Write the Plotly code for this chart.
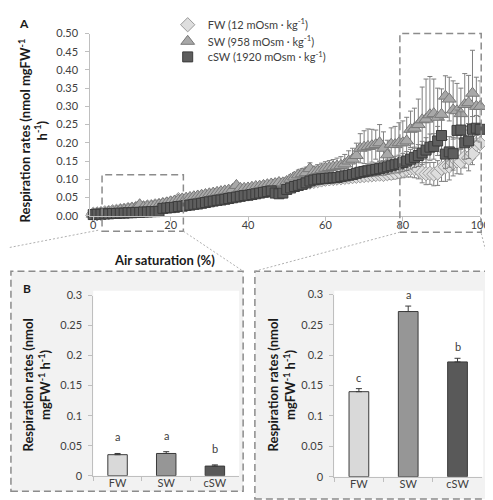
import plotly.graph_objects as go

# ---------------- data ----------------
air_saturation = list(range(0, 101))

fw_rate = [0.004, 0.005, 0.006, 0.008, 0.009, 0.011, 0.012, 0.014, 0.015, 0.017,
           0.018, 0.020, 0.021, 0.022, 0.024, 0.025, 0.027, 0.028, 0.030, 0.032,
           0.034, 0.036, 0.044, 0.040, 0.042, 0.044, 0.046, 0.048, 0.050, 0.052,
           0.054, 0.056, 0.058, 0.060, 0.061, 0.063, 0.064, 0.066, 0.067, 0.068,
           0.069, 0.070, 0.071, 0.072, 0.073, 0.074, 0.075, 0.076, 0.077, 0.078,
           0.080, 0.082, 0.084, 0.086, 0.088, 0.090, 0.092, 0.094, 0.096, 0.098,
           0.100, 0.101, 0.102, 0.103, 0.104, 0.105, 0.106, 0.107, 0.108, 0.109,
           0.110, 0.111, 0.112, 0.113, 0.114, 0.113, 0.115, 0.116, 0.118, 0.121,
           0.124, 0.128, 0.130, 0.129, 0.127, 0.118, 0.115, 0.116, 0.114, 0.117,
           0.130, 0.134, 0.136, 0.145, 0.150, 0.148, 0.161, 0.158, 0.170, 0.196,
           0.198]
fw_err = [0.002, 0.002, 0.002, 0.002, 0.002, 0.002, 0.003, 0.003, 0.003, 0.003,
          0.003, 0.003, 0.003, 0.003, 0.003, 0.004, 0.004, 0.004, 0.004, 0.004,
          0.004, 0.004, 0.005, 0.004, 0.004, 0.004, 0.005, 0.005, 0.005, 0.005,
          0.005, 0.005, 0.005, 0.005, 0.006, 0.006, 0.006, 0.006, 0.006, 0.006,
          0.006, 0.006, 0.006, 0.007, 0.007, 0.007, 0.007, 0.007, 0.007, 0.007,
          0.008, 0.008, 0.008, 0.008, 0.008, 0.008, 0.008, 0.009, 0.009, 0.009,
          0.009, 0.009, 0.010, 0.010, 0.010, 0.010, 0.010, 0.011, 0.011, 0.011,
          0.012, 0.012, 0.012, 0.013, 0.013, 0.014, 0.015, 0.016, 0.017, 0.018,
          0.020, 0.022, 0.024, 0.025, 0.026, 0.028, 0.030, 0.030, 0.032, 0.034,
          0.036, 0.040, 0.038, 0.036, 0.035, 0.034, 0.030, 0.035, 0.030, 0.028,
          0.025]

sw_rate = [0.004, 0.006, 0.007, 0.008, 0.010, 0.011, 0.013, 0.015, 0.016, 0.018,
           0.020, 0.021, 0.030, 0.023, 0.025, 0.026, 0.028, 0.030, 0.033, 0.035,
           0.038, 0.040, 0.043, 0.046, 0.048, 0.050, 0.052, 0.054, 0.056, 0.058,
           0.060, 0.062, 0.064, 0.066, 0.068, 0.070, 0.072, 0.083, 0.075, 0.075,
           0.076, 0.078, 0.080, 0.081, 0.083, 0.085, 0.087, 0.088, 0.091, 0.090,
           0.094, 0.100, 0.106, 0.112, 0.115, 0.118, 0.129, 0.120, 0.123, 0.126,
           0.130, 0.132, 0.134, 0.136, 0.138, 0.142, 0.150, 0.155, 0.165, 0.185,
           0.188, 0.190, 0.192, 0.195, 0.200, 0.185, 0.167, 0.196, 0.195, 0.200,
           0.200, 0.205, 0.237, 0.240, 0.250, 0.263, 0.265, 0.277, 0.280, 0.270,
           0.278, 0.328, 0.320, 0.290, 0.288, 0.280, 0.305, 0.310, 0.336, 0.300,
           0.300]
sw_err = [0.002, 0.002, 0.002, 0.002, 0.002, 0.003, 0.003, 0.003, 0.003, 0.003,
          0.003, 0.003, 0.004, 0.003, 0.003, 0.004, 0.004, 0.004, 0.004, 0.004,
          0.004, 0.004, 0.005, 0.005, 0.005, 0.005, 0.005, 0.005, 0.005, 0.005,
          0.005, 0.006, 0.006, 0.006, 0.006, 0.006, 0.007, 0.008, 0.007, 0.007,
          0.007, 0.008, 0.008, 0.008, 0.009, 0.009, 0.009, 0.010, 0.010, 0.010,
          0.011, 0.012, 0.012, 0.013, 0.014, 0.015, 0.016, 0.016, 0.017, 0.018,
          0.018, 0.019, 0.020, 0.022, 0.024, 0.026, 0.028, 0.030, 0.034, 0.040,
          0.045, 0.048, 0.045, 0.040, 0.050, 0.045, 0.040, 0.045, 0.050, 0.055,
          0.060, 0.065, 0.050, 0.055, 0.070, 0.090, 0.110, 0.105, 0.095, 0.080,
          0.070, 0.056, 0.060, 0.080, 0.075, 0.070, 0.085, 0.075, 0.118, 0.080,
          0.070]

csw_rate = [0.003, 0.004, 0.004, 0.005, 0.005, 0.006, 0.006, 0.007, 0.007, 0.008,
            0.008, 0.009, 0.009, 0.010, 0.010, 0.011, 0.011, 0.012, 0.020, 0.021,
            0.022, 0.023, 0.025, 0.026, 0.028, 0.029, 0.031, 0.032, 0.034, 0.036,
            0.038, 0.040, 0.042, 0.043, 0.045, 0.047, 0.049, 0.051, 0.053, 0.055,
            0.056, 0.058, 0.060, 0.062, 0.064, 0.066, 0.068, 0.062, 0.060, 0.062,
            0.072, 0.076, 0.080, 0.083, 0.086, 0.090, 0.095, 0.098, 0.100, 0.101,
            0.102, 0.103, 0.104, 0.105, 0.107, 0.109, 0.111, 0.113, 0.116, 0.119,
            0.121, 0.123, 0.125, 0.127, 0.129, 0.131, 0.134, 0.137, 0.140, 0.142,
            0.146, 0.150, 0.155, 0.160, 0.165, 0.172, 0.180, 0.188, 0.190, 0.205,
            0.220, 0.169, 0.175, 0.170, 0.234, 0.235, 0.200, 0.205, 0.237, 0.240,
            0.237]
csw_err = [0.002, 0.002, 0.002, 0.002, 0.002, 0.002, 0.002, 0.002, 0.002, 0.002,
           0.002, 0.002, 0.002, 0.003, 0.003, 0.003, 0.003, 0.003, 0.003, 0.003,
           0.003, 0.003, 0.004, 0.004, 0.004, 0.004, 0.004, 0.004, 0.004, 0.005,
           0.005, 0.005, 0.005, 0.005, 0.005, 0.006, 0.006, 0.006, 0.006, 0.006,
           0.007, 0.007, 0.007, 0.007, 0.008, 0.008, 0.008, 0.008, 0.009, 0.009,
           0.009, 0.010, 0.010, 0.010, 0.010, 0.011, 0.011, 0.011, 0.012, 0.012,
           0.012, 0.012, 0.013, 0.013, 0.013, 0.014, 0.014, 0.014, 0.015, 0.015,
           0.016, 0.016, 0.017, 0.018, 0.019, 0.020, 0.021, 0.022, 0.023, 0.024,
           0.025, 0.026, 0.027, 0.028, 0.030, 0.032, 0.034, 0.036, 0.035, 0.040,
           0.045, 0.040, 0.042, 0.045, 0.056, 0.050, 0.045, 0.048, 0.035, 0.035,
           0.035]

series_names = ["FW (12 mOsm · kg<sup>-1</sup>)",
                "SW (958 mOsm · kg<sup>-1</sup>)",
                "cSW (1920 mOsm · kg<sup>-1</sup>)"]

groups = ["FW", "SW", "cSW"]
low_rate = [0.035, 0.037, 0.016]        # 0-20 % air saturation
low_err = [0.002, 0.003, 0.002]
low_letters = ["a", "a", "b"]
high_rate = [0.140, 0.272, 0.189]       # 80-100 % air saturation
high_err = [0.005, 0.009, 0.006]
high_letters = ["c", "a", "b"]

# ---------------- styling ----------------
W, H = 493, 500
FONT = "Lato"
TXT = "#404040"
TTL = "#1a1a1a"
AX = "#bfbfbf"
fills = ["#dedede", "#a8a8a8", "#5e5e5e"]
edges = ["#9a9a9a", "#787878", "#3c3c3c"]
symbols = ["diamond", "triangle-up", "square"]
sizes = [11, 12, 10]
bar_fills = ["#d9d9d9", "#969696", "#595959"]
legend_ids = ["legend", "legend2", "legend3"]
legend_rows = [10, 27, 43]


def px(x):
    return x / W


def py(y):
    return 1 - y / H


fig = go.Figure()

for name, yv, ev, sym, fc, ec, sz, lg in zip(series_names, [fw_rate, sw_rate, csw_rate],
                                             [fw_err, sw_err, csw_err], symbols, fills, edges,
                                             sizes, legend_ids):
    fig.add_trace(go.Scatter(
        x=air_saturation, y=yv, name=name, mode="markers", legend=lg,
        marker=dict(symbol=sym, size=sz, color=fc, line=dict(color=ec, width=1)),
        error_y=dict(type="data", array=ev, visible=True, color="#7f7f7f", thickness=1, width=2.5),
        cliponaxis=False, xaxis="x", yaxis="y"))

for xa, ya, vals, errs in [("x2", "y2", low_rate, low_err), ("x3", "y3", high_rate, high_err)]:
    fig.add_trace(go.Bar(
        x=groups, y=vals, width=0.4, showlegend=False,
        marker=dict(color=bar_fills, line=dict(color="#3a3a3a", width=1)),
        error_y=dict(type="data", array=errs, arrayminus=[0] * len(errs), symmetric=False,
                     visible=True, color="#3a3a3a", thickness=1, width=3),
        xaxis=xa, yaxis=ya))

annotations = []
for xa, ya, vals, errs, letters, shift in [("x2", "y2", low_rate, low_err, low_letters, 8),
                                           ("x3", "y3", high_rate, high_err, high_letters, 3)]:
    for g, v, e, t in zip(groups, vals, errs, letters):
        annotations.append(dict(x=g, y=v + e, xref=xa, yref=ya, text=t, showarrow=False,
                                xanchor="center", yanchor="bottom", yshift=shift,
                                font=dict(family=FONT, size=11, color=TXT)))


def label(x, y, text, size, angle=0):
    return dict(x=px(x), y=py(y), xref="paper", yref="paper", text=text, textangle=angle,
                showarrow=False, xanchor="center", yanchor="middle",
                font=dict(family=FONT, size=size, color=TTL))


ytitle_A = "<b>Respiration rates (nmol mgFW<sup>-1</sup></b><br><b>h<sup>-1</sup>)</b>"
ytitle_B = "<b>Respiration rates (nmol</b><br><b>mgFW<sup>-1</sup> h<sup>-1</sup>)</b>"
annotations += [
    label(25, 118, ytitle_A, 13, -90),
    label(29, 380, ytitle_B, 13, -90),
    label(279, 380, ytitle_B, 13, -90),
    label(160, 252, "<b>Air saturation (%)</b>", 13),
    label(16, 9, "<b>A</b>", 12),
    label(19, 281, "<b>B</b>", 12),
]

DASH = "7px,4px"
shapes = [
    # panel frames
    dict(type="rect", xref="paper", yref="paper", x0=px(3), x1=px(240), y0=py(489), y1=py(263),
         fillcolor="#f2f2f2", line=dict(color="#8c8c8c", width=1.5, dash=DASH), layer="below"),
    dict(type="rect", xref="paper", yref="paper", x0=px(252), x1=px(492), y0=py(497), y1=py(263),
         fillcolor="#f2f2f2", line=dict(color="#8c8c8c", width=1.5, dash=DASH), layer="below"),
    # white plot areas
    dict(type="rect", xref="paper", yref="paper", x0=px(87), x1=px(236), y0=py(473), y1=py(283),
         fillcolor="white", line=dict(width=0), layer="below"),
    dict(type="rect", xref="paper", yref="paper", x0=px(333), x1=px(485), y0=py(474), y1=py(283),
         fillcolor="white", line=dict(width=0), layer="below"),
    # zoom boxes in panel A
    dict(type="rect", xref="paper", yref="paper", x0=px(96), x1=px(179), y0=py(222), y1=py(164),
         line=dict(color="#8c8c8c", width=1.5, dash=DASH), layer="above"),
    dict(type="rect", xref="paper", yref="paper", x0=px(400), x1=px(483), y0=py(223), y1=py(19),
         line=dict(color="#8c8c8c", width=1.5, dash=DASH), layer="above"),
]
for (x0, y0, x1, y1) in [(92, 221, 0, 239), (179, 222, 240, 263), (400, 223, 252, 263), (483, 224, 493, 263)]:
    shapes.append(dict(type="line", xref="paper", yref="paper", x0=px(x0), y0=py(y0), x1=px(x1), y1=py(y1),
                       line=dict(color="#b0b0b0", width=1, dash="2px,2px")))

tickfont = dict(family=FONT, size=11, color=TXT)

legends = {}
for lg, row in zip(legend_ids, legend_rows):
    legends[lg] = dict(x=px(163), y=py(row), xanchor="left", yanchor="middle",
                       bgcolor="rgba(0,0,0,0)", font=dict(family=FONT, size=11, color=TXT),
                       itemwidth=30)

fig.update_layout(
    width=W, height=H, margin=dict(l=0, r=0, t=0, b=0),
    paper_bgcolor="white", plot_bgcolor="rgba(0,0,0,0)",
    font=dict(family=FONT, size=11, color=TXT),
    showlegend=True,
    xaxis=dict(domain=[px(84), px(482)], range=[-0.76, 100], tickvals=[0, 20, 40, 60, 80, 100],
               showline=True, linecolor=AX, ticks="outside", ticklen=4, tickcolor=AX,
               showgrid=False, zeroline=False, tickfont=tickfont, ticklabelstandoff=-5,
               ticklabeloverflow="allow", anchor="y"),
    yaxis=dict(domain=[py(206), py(19)], range=[0, 0.5], dtick=0.05, tickformat=".2f",
               showline=True, linecolor=AX, ticks="outside", ticklen=4, tickcolor=AX,
               showgrid=False, zeroline=False, tickfont=tickfont, ticklabelstandoff=5, anchor="x"),
    xaxis2=dict(domain=[px(87), px(236)], showline=True, linecolor=AX, ticks="outside",
                tickson="boundaries", ticklen=4, tickcolor=AX, tickfont=tickfont,
                ticklabelstandoff=-3, anchor="y2"),
    yaxis2=dict(domain=[py(473), py(288)], range=[0, 0.3], dtick=0.05, showline=True, linecolor=AX,
                ticks="outside", ticklen=4, tickcolor=AX, showgrid=False, zeroline=False,
                tickfont=tickfont, ticklabelstandoff=4, anchor="x2"),
    xaxis3=dict(domain=[px(333), px(484)], showline=True, linecolor=AX, ticks="outside",
                tickson="boundaries", ticklen=4, tickcolor=AX, tickfont=tickfont,
                ticklabelstandoff=-3, anchor="y3"),
    yaxis3=dict(domain=[py(474), py(287)], range=[0, 0.3], dtick=0.05, showline=True, linecolor=AX,
                ticks="outside", ticklen=4, tickcolor=AX, showgrid=False, zeroline=False,
                tickfont=tickfont, ticklabelstandoff=4, anchor="x3"),
    annotations=annotations, shapes=shapes,
    **legends,
)

fig.write_html("out.html")
